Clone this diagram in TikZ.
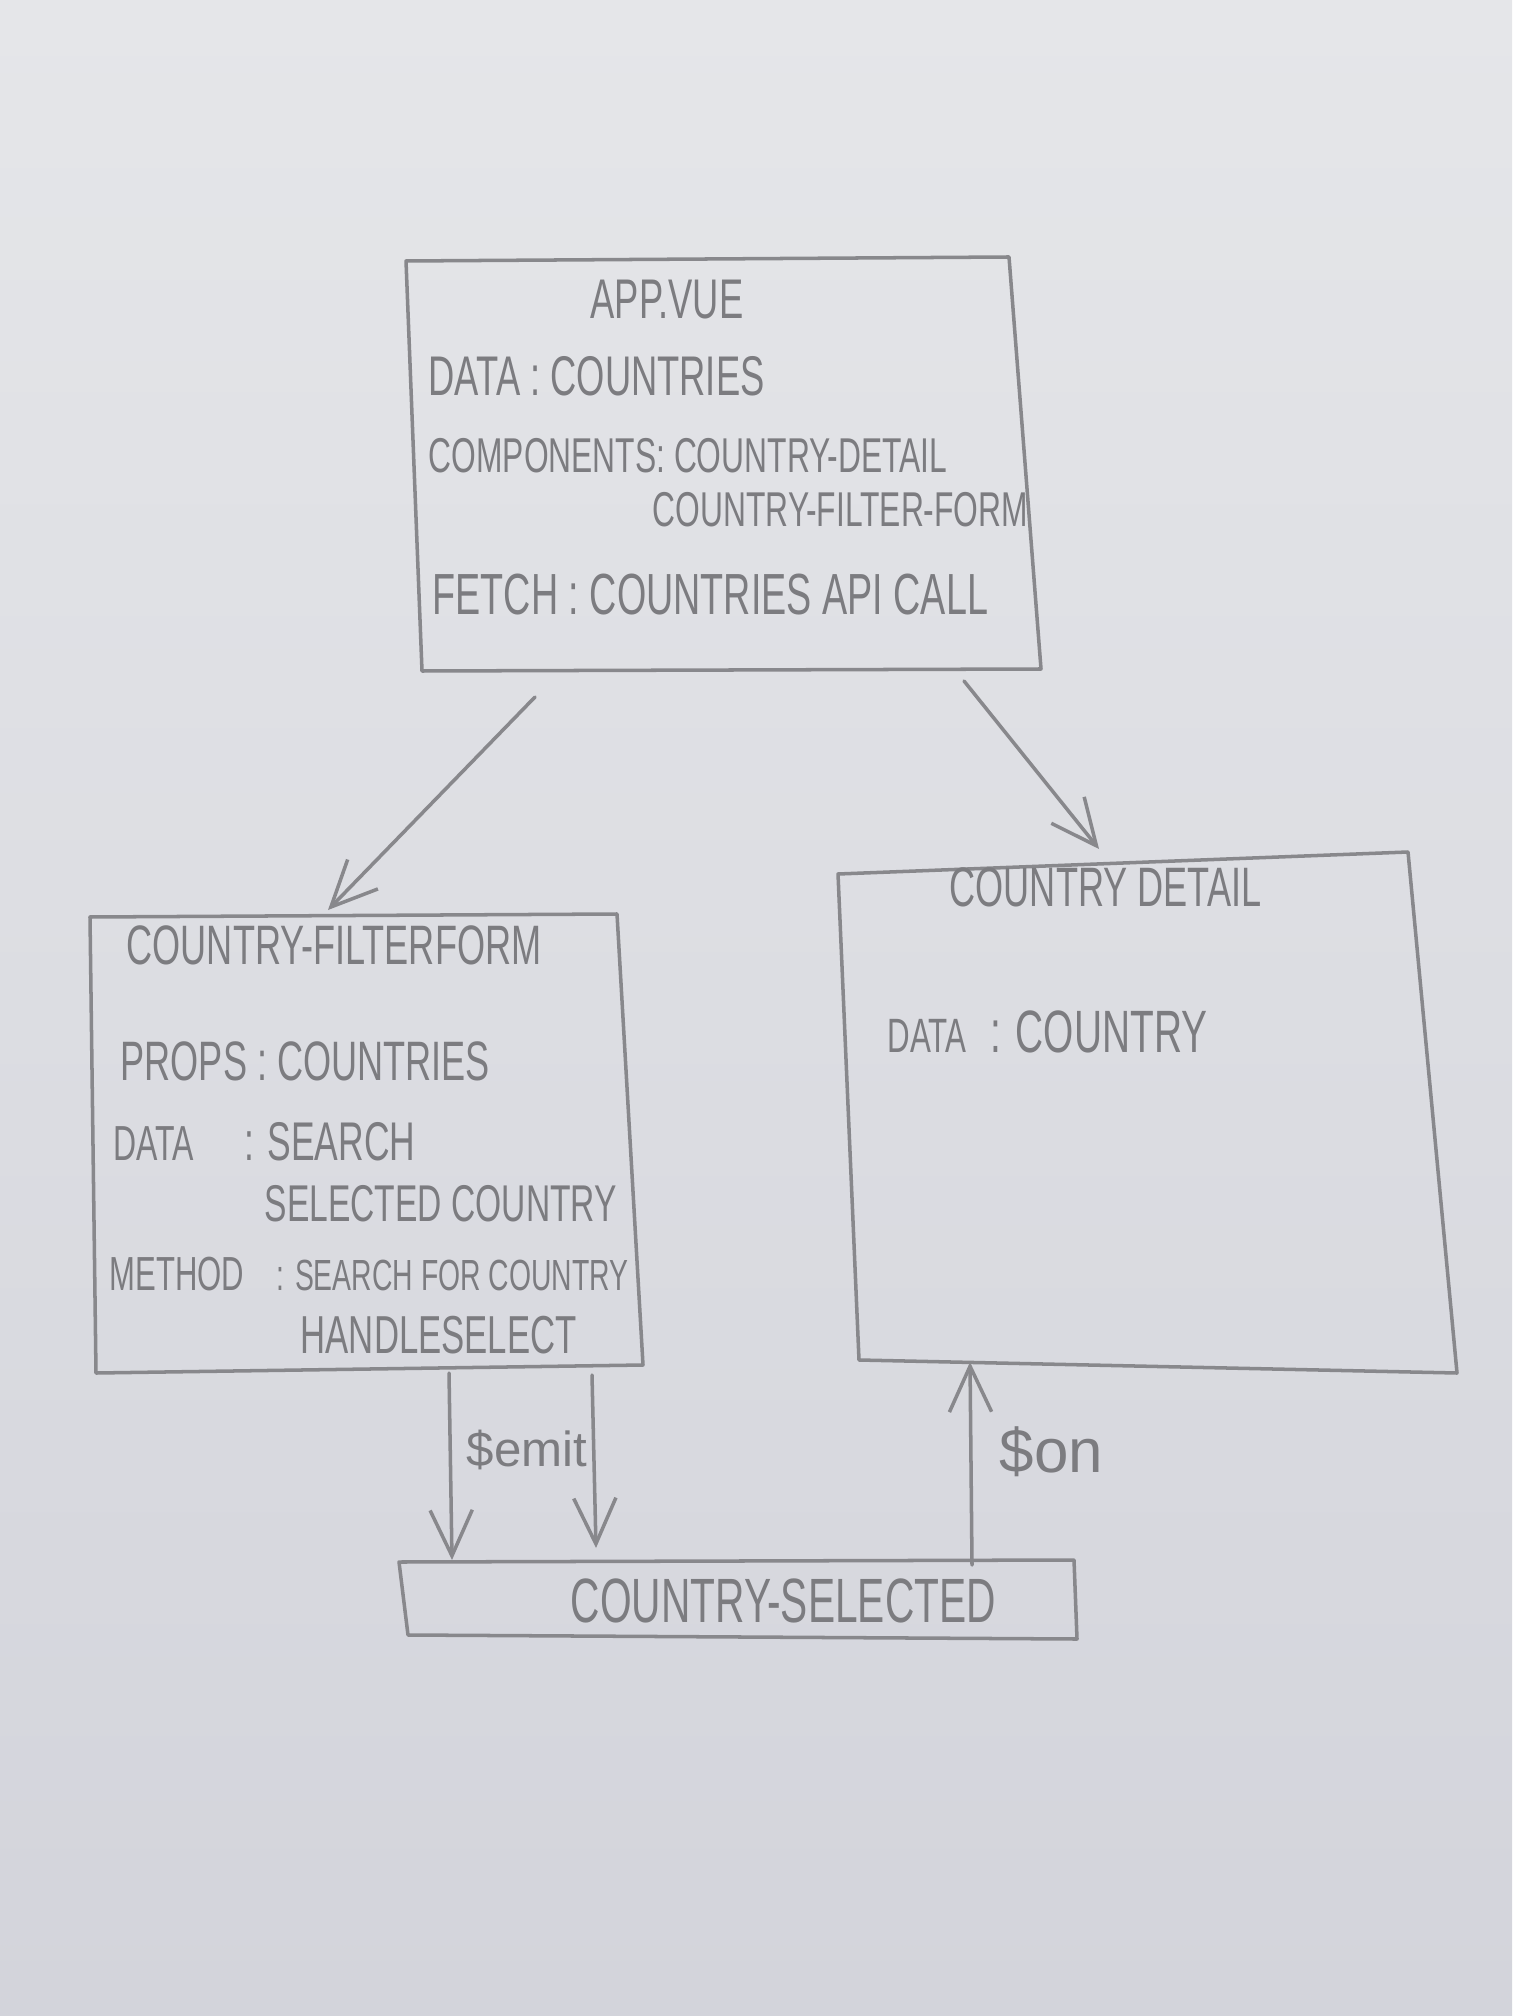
\documentclass[tikz,border=0pt]{standalone}
\usepackage{fontspec}
\setmainfont{Liberation Sans}
\newfontfamily\hand[FakeStretch=0.65]{Liberation Sans}
\newfontfamily\handn{Liberation Sans}
\usetikzlibrary{arrows.meta}
\definecolor{pencil}{HTML}{7C7C80}
\definecolor{penline}{HTML}{88888C}
\definecolor{bgtop}{HTML}{E5E6E9}
\definecolor{bgmid}{HTML}{E9E9EB}
\definecolor{bgbot}{HTML}{D3D4DB}
\tikzset{
  txt/.style={anchor=base west, inner sep=0pt, text=pencil, font=\hand\fontsize{#1}{#1}\selectfont},
  ltxt/.style={anchor=base west, inner sep=0pt, text=pencil, font=\handn\fontsize{#1}{#1}\selectfont},
  box/.style={draw=penline, line width=1pt, line join=round},
  conn/.style={draw=penline, line width=1pt, line cap=round, -{Straight Barb[length=13pt,width=12pt,line width=1pt]}},
}
\begin{document}
\begin{tikzpicture}[x=0.01cm,y=-0.01cm]
\useasboundingbox (0,0) rectangle (1512,2016);
\shade[top color=bgtop, middle color=bgmid, bottom color=bgbot] (0,0) rectangle (1512,2016);

% ---- App.vue box
\coordinate (appTL) at (406,261);
\coordinate (appTR) at (1009,257);
\coordinate (appBR) at (1041,669);
\coordinate (appBL) at (422,671);
\draw[box] (appTL) -- (appTR) -- (appBR) -- (appBL) -- cycle;
\node[txt=15.9, anchor=base] (appt) at (667,319) {APP.VUE};
\node[txt=15.9] (appd) at (428,396) {DATA : COUNTRIES};
\node[txt=13.9] (appc) at (428,473) {COMPONENTS: COUNTRY-DETAIL};
\node[txt=13.9] (appc2) at (652,527) {COUNTRY-FILTER-FORM};
\node[txt=16.5] (appf) at (432,615) {FETCH : COUNTRIES API CALL};

% ---- Country filter form box
\coordinate (ffTL) at (90,917);
\coordinate (ffTR) at (617,914);
\coordinate (ffBR) at (643,1365);
\coordinate (ffBL) at (96,1373);
\draw[box] (ffTL) -- (ffTR) -- (ffBR) -- (ffBL) -- cycle;
\node[txt=15.8] (fft) at (126,964) {COUNTRY-FILTERFORM};
\node[txt=15.8] (ffp) at (120,1080) {PROPS : COUNTRIES};
\node[txt=14] (ffd) at (113,1160) {DATA};
\node[txt=15.5] (ffd1) at (244,1160) {: SEARCH};
\node[txt=14.7] (ffd2) at (264,1221) {SELECTED COUNTRY};
\node[txt=13.6] (ffm) at (109,1290) {METHOD};
\node[txt=12.4] (ffm1) at (276,1290) {: SEARCH FOR COUNTRY};
\node[txt=15.2] (ffm2) at (300,1353) {HANDLESELECT};

% ---- Country detail box
\coordinate (cdTL) at (838,874);
\coordinate (cdTR) at (1408,852);
\coordinate (cdBR) at (1457,1373);
\coordinate (cdBL) at (859,1360);
\draw[box] (cdTL) -- (cdTR) -- (cdBR) -- (cdBL) -- cycle;
\node[txt=15.8] (cdt) at (949,906) {COUNTRY DETAIL};
\node[txt=13.7] (cdd) at (887,1052) {DATA};
\node[txt=17] (cdd1) at (990,1052) {: COUNTRY};

% ---- Country selected box
\coordinate (csTL) at (399,1562);
\coordinate (csTR) at (1074,1560);
\coordinate (csBR) at (1077,1639);
\coordinate (csBL) at (408,1635);
\draw[box] (csTL) -- (csTR) -- (csBR) -- (csBL) -- cycle;
\node[txt=17.8] (cst) at (570,1622) {COUNTRY-SELECTED};

% ---- connectors
\coordinate (a1s) at (535,697);
\coordinate (a1e) at (328,910);
\coordinate (a2s) at (964,681);
\coordinate (a2e) at (1099,849);
\coordinate (e1s) at (449,1373);
\coordinate (e1e) at (452,1560);
\coordinate (e2s) at (592,1375);
\coordinate (e2e) at (596,1548);
\coordinate (ons) at (972,1565);
\coordinate (one) at (970,1362);
\draw[conn] (a1s) -- (a1e);
\draw[conn] (a2s) -- (a2e);
\draw[conn] (e1s) -- (e1e);
\draw[conn] (e2s) -- (e2e);
\draw[conn] (ons) -- (one);
\node[ltxt=14] (emit) at (466,1466) {\$emit};
\node[ltxt=17.6] (on) at (999,1472) {\$on};
\end{tikzpicture}
\end{document}
